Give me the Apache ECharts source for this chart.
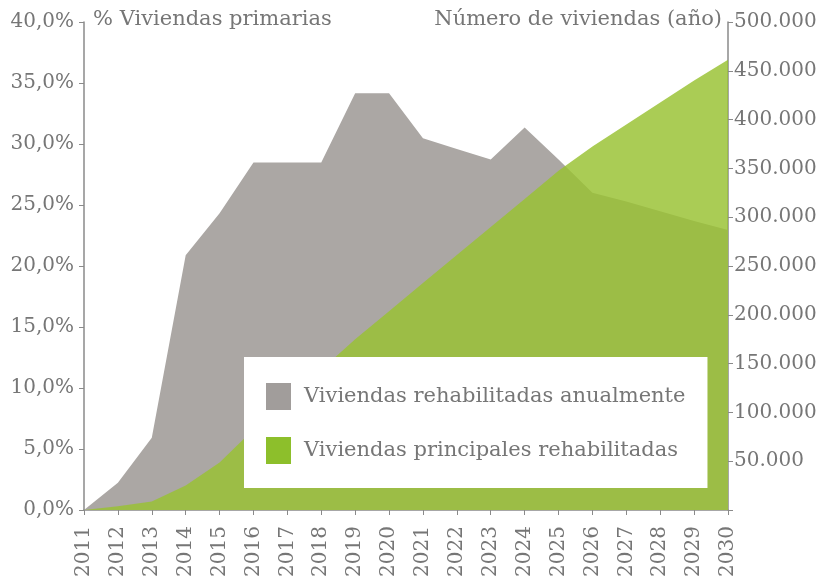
<!DOCTYPE html>
<html lang="es">
<head>
    <meta charset="UTF-8">
    <title>Viviendas rehabilitadas</title>
    <style>
        html, body {
            margin: 0;
            padding: 0;
            background: #fff;
        }

        #chart {
            width: 824px;
            height: 581px;
        }
    </style>
</head>
<body>
<div id="chart"></div>
<script src="https://cdn.jsdelivr.net/npm/echarts@6/dist/echarts.min.js"></script>
<script>
    // años
    var years = ['2011', '2012', '2013', '2014', '2015', '2016', '2017', '2018', '2019', '2020',
        '2021', '2022', '2023', '2024', '2025', '2026', '2027', '2028', '2029', '2030'];

    // viviendas rehabilitadas cada año (eje derecho)
    var anuales = [0, 28000, 74000, 261000, 304000, 356000, 356000, 356000, 427000, 427000,
        381000, 370000, 359000, 392000, 359000, 325000, 316000, 306000, 296000, 287000];

    // % de viviendas principales rehabilitadas (eje izquierdo)
    var principales = [0, 0.3, 0.7, 2.0, 3.9, 6.6, 9.0, 11.5, 14.0, 16.3,
        18.6, 20.9, 23.2, 25.5, 27.8, 29.8, 31.6, 33.4, 35.2, 36.9];

    var serieGris = 'Viviendas rehabilitadas anualmente';
    var serieVerde = 'Viviendas principales rehabilitadas';

    var font = 'DejaVu Serif';
    var textColor = '#767676';
    var lineColor = '#8a8a8a';

    var myChart = echarts.init(document.getElementById('chart'));

    var option = {
        animation: false,
        backgroundColor: '#fff',
        grid: {
            left: 84,
            right: 96,
            top: 22,
            bottom: 71
        },
        legend: {
            orient: 'vertical',
            left: 244,
            top: 357,
            backgroundColor: '#fff',
            padding: [26, 22, 24, 22],
            itemWidth: 25,
            itemHeight: 27,
            itemGap: 27,
            icon: 'rect',
            textStyle: {
                fontFamily: font,
                fontSize: 21,
                color: textColor,
                padding: [0, 0, 0, 8]
            },
            data: [
                {name: serieGris, itemStyle: {color: '#a19d9b'}},
                {name: serieVerde, itemStyle: {color: '#8dbf2b'}}
            ]
        },
        xAxis: {
            type: 'category',
            boundaryGap: false,
            data: years,
            axisLine: {lineStyle: {color: lineColor, width: 1.5}},
            axisTick: {length: 5, lineStyle: {color: lineColor}},
            axisLabel: {
                rotate: 90,
                margin: 16,
                fontFamily: font,
                fontSize: 20,
                color: textColor
            }
        },
        yAxis: [
            {
                type: 'value',
                min: 0,
                max: 40,
                interval: 5,
                splitLine: {show: false},
                axisLine: {show: true, lineStyle: {color: lineColor, width: 1.5}},
                axisTick: {show: true, length: 5, lineStyle: {color: lineColor}},
                axisLabel: {
                    margin: 10,
                    fontFamily: font,
                    fontSize: 20,
                    color: textColor,
                    formatter: function (v) {
                        return v.toFixed(1).replace('.', ',') + '%';
                    }
                }
            },
            {
                type: 'value',
                min: 0,
                max: 500000,
                interval: 50000,
                splitLine: {show: false},
                axisLine: {show: true, lineStyle: {color: lineColor, width: 1.5}},
                axisTick: {show: true, length: 5, lineStyle: {color: lineColor}},
                axisLabel: {
                    margin: 6,
                    fontFamily: font,
                    fontSize: 20,
                    color: textColor,
                    formatter: function (v) {
                        return v === 0 ? '' : (v / 1000) + '.000';
                    }
                }
            }
        ],
        graphic: [
            {
                type: 'text',
                left: 93,
                top: 9,
                style: {
                    text: '% Viviendas primarias',
                    font: '21px "DejaVu Serif"',
                    fill: textColor
                }
            },
            {
                type: 'text',
                right: 102,
                top: 9,
                style: {
                    text: 'Número de viviendas (año)',
                    font: '21px "DejaVu Serif"',
                    fill: textColor
                }
            }
        ],
        series: [
            {
                name: serieGris,
                type: 'line',
                yAxisIndex: 1,
                data: anuales,
                showSymbol: false,
                lineStyle: {width: 0},
                itemStyle: {color: '#aba7a4'},
                areaStyle: {color: '#aba7a4', opacity: 1}
            },
            {
                name: serieVerde,
                type: 'line',
                yAxisIndex: 0,
                data: principales,
                showSymbol: false,
                lineStyle: {width: 0},
                itemStyle: {color: 'rgb(153,194,50)'},
                areaStyle: {color: 'rgb(153,194,50)', opacity: 0.83}
            }
        ]
    };

    myChart.setOption(option);
</script>
</body>
</html>
